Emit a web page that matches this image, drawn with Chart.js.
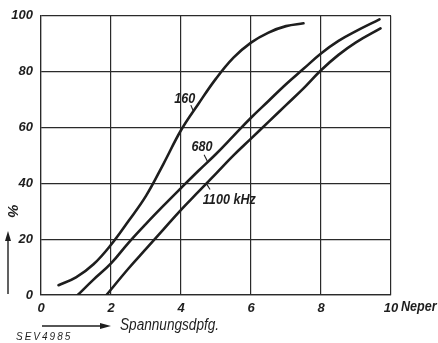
<!DOCTYPE html>
<html><head><meta charset="utf-8">
<script src="https://cdn.jsdelivr.net/npm/chart.js@4/dist/chart.umd.min.js"></script>
<style>html,body{margin:0;padding:0;background:#fff}canvas{display:block}</style>
</head><body>
<canvas id="c" width="438" height="343"></canvas>
<script>
// Series 160 kHz
const x160 = [0.5, 1.0, 1.5, 2.0, 2.5, 3.0, 3.5, 4.0, 4.5, 5.0, 5.5, 6.0, 6.5, 7.0, 7.5];
const y160 = [3.5, 6.3, 11, 18, 26.5, 35.5, 47, 59, 68.5, 77.5, 85, 90.4, 94, 96.3, 97.3];
// Series 680 kHz
const x680 = [1.05, 1.5, 2.0, 2.5, 3.0, 3.5, 4.0, 4.5, 5.0, 5.5, 6.0, 6.5, 7.0, 7.5, 8.0, 8.5, 9.0, 9.67];
const y680 = [0, 5.5, 11.3, 18.7, 25.5, 32, 38.3, 44.5, 50.5, 57, 63.5, 69.5, 75.5, 81, 86.5, 91, 94.5, 98.7];
// Series 1100 kHz
const x1100 = [1.87, 2.5, 3.0, 3.5, 4.0, 4.5, 5.0, 5.5, 6.0, 6.5, 7.0, 7.5, 8.0, 8.5, 9.0, 9.7];
const y1100 = [0, 9.5, 16.5, 23.5, 30.5, 37, 43.5, 50, 56, 62, 68, 74, 80.5, 86, 90.5, 95.5];
// Ticks
const xTicks = [0, 2, 4, 6, 8, 10];
const yTicks = [0, 20, 40, 60, 80, 100];
const xUnit = "Neper";
const yUnit = "%";
const xTitle = "Spannungsdpfg.";
const footNote = "SEV4985";
// Curve labels: text, label position (data), leader start/end (data)
const curveLabels = [
  {text: "160", at: [4.11, 70.3], lead: [[4.28, 68.0], [4.35, 66.0]]},
  {text: "680", at: [4.6, 53.0], lead: [[4.66, 50.2], [4.75, 48.0]]},
  {text: "1100 kHz", at: [5.38, 34.0], lead: [[4.73, 39.8], [4.83, 37.8]]}
];

const FONT = "'Liberation Sans',Arial,sans-serif";
const INK = '#1e1e1e';

function pts(xs, ys){ return xs.map((v,i)=>({x:v, y:ys[i]})); }
function ds(xs, ys){
  return {data: pts(xs, ys), borderColor: INK, borderWidth: 2.6, pointRadius: 0,
          fill: false, tension: 0.4, borderCapStyle: 'round', borderJoinStyle: 'round'};
}

function condensed(ctx, text, x, y, sx){
  ctx.save(); ctx.translate(x, y); ctx.scale(sx, 1); ctx.fillText(text, 0, 0); ctx.restore();
}

const deco = {
  id: 'deco',
  afterDraw(chart){
    const ctx = chart.ctx, xs = chart.scales.x, ys = chart.scales.y, a = chart.chartArea;
    ctx.save();
    ctx.fillStyle = INK; ctx.strokeStyle = INK;
    // curve labels
    ctx.font = "italic 600 14px " + FONT;
    ctx.textAlign = 'center'; ctx.textBaseline = 'middle';
    curveLabels.forEach(l=>{
      condensed(ctx, l.text, xs.getPixelForValue(l.at[0]), ys.getPixelForValue(l.at[1]), 0.9);
      ctx.lineWidth = 1.1;
      ctx.beginPath();
      ctx.moveTo(xs.getPixelForValue(l.lead[0][0]), ys.getPixelForValue(l.lead[0][1]));
      ctx.lineTo(xs.getPixelForValue(l.lead[1][0]), ys.getPixelForValue(l.lead[1][1]));
      ctx.stroke();
    });
    // x unit after last tick
    ctx.font = "italic 600 14px " + FONT;
    ctx.textAlign = 'left'; ctx.textBaseline = 'middle';
    condensed(ctx, xUnit, a.right + 10, a.bottom + 12, 0.9);
    // y unit rotated
    ctx.save();
    ctx.translate(12, 211);
    ctx.rotate(Math.PI/2);
    ctx.font = "italic 600 15px " + FONT;
    ctx.textAlign = 'center';
    ctx.fillText(yUnit, 0, 0);
    ctx.restore();
    // y arrow
    ctx.lineWidth = 1.4;
    ctx.beginPath(); ctx.moveTo(8, 294); ctx.lineTo(8, 238); ctx.stroke();
    ctx.beginPath(); ctx.moveTo(8, 231); ctx.lineTo(5, 241); ctx.lineTo(11, 241); ctx.closePath(); ctx.fill();
    // x arrow
    ctx.beginPath(); ctx.moveTo(42, 326); ctx.lineTo(102, 326); ctx.stroke();
    ctx.beginPath(); ctx.moveTo(111, 326); ctx.lineTo(100, 323); ctx.lineTo(100, 329); ctx.closePath(); ctx.fill();
    // x title
    ctx.font = "italic 16px " + FONT;
    ctx.textAlign = 'left'; ctx.textBaseline = 'middle';
    condensed(ctx, xTitle, 120, 326, 0.85);
    // footnote
    ctx.font = "italic 10px " + FONT;
    ctx.letterSpacing = '2px';
    ctx.fillText(footNote, 16, 337);
    ctx.restore();
  }
};

new Chart(document.getElementById('c'), {
  type: 'line',
  data: {datasets: [ds(x160, y160), ds(x680, y680), ds(x1100, y1100)]},
  options: {
    responsive: false, animation: false, devicePixelRatio: 1,
    layout: {padding: {left: 0, top: 14, right: 47, bottom: 0}},
    plugins: {legend: {display: false}, tooltip: {enabled: false}},
    scales: {
      x: {type: 'linear', min: 0, max: 10,
          afterBuildTicks: s => { s.ticks = xTicks.map(v=>({value:v})); },
          afterFit: s => { s.height = 48; },
          grid: {color: '#2a2a2a', lineWidth: 1.2, drawTicks: false},
          border: {display: true, color: '#2a2a2a', width: 1.2},
          ticks: {color: INK, padding: 6, maxRotation: 0, autoSkip: false,
                  font: {family: FONT, size: 13, style: 'italic', weight: '600'}}},
      y: {type: 'linear', min: 0, max: 100,
          afterBuildTicks: s => { s.ticks = yTicks.map(v=>({value:v})); },
          afterFit: s => { s.width = 41; },
          grid: {color: '#2a2a2a', lineWidth: 1.2, drawTicks: false},
          border: {display: true, color: '#2a2a2a', width: 1.2},
          ticks: {color: INK, padding: 8, autoSkip: false,
                  font: {family: FONT, size: 13, style: 'italic', weight: '600'}}}
    }
  },
  plugins: [deco]
});
</script>
</body></html>
